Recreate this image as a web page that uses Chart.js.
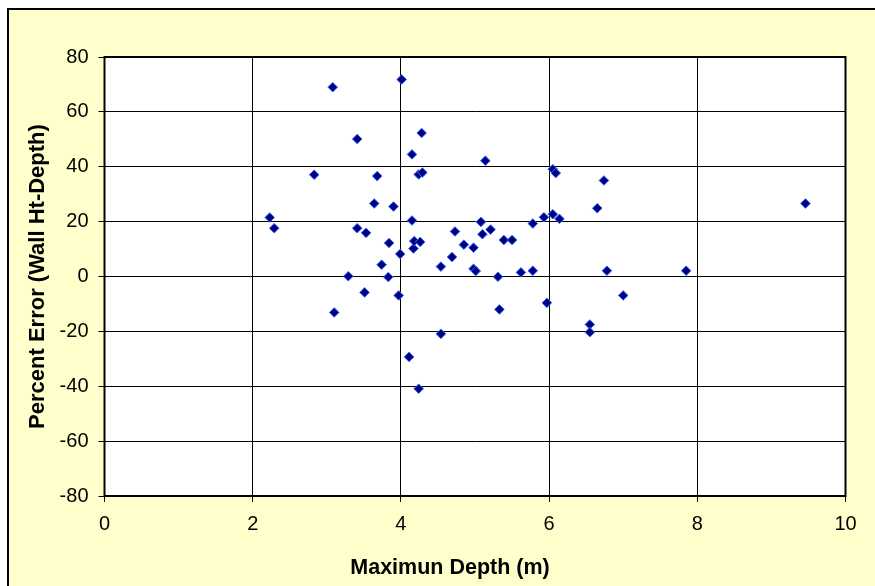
<!DOCTYPE html>
<html>
<head>
<meta charset="utf-8">
<script src="https://cdn.jsdelivr.net/npm/chart.js@4"></script>
<style>
  html, body { margin: 0; padding: 0; background: #fff; }
  canvas { display: block; }
</style>
</head>
<body>
<canvas id="chart" width="875" height="586"></canvas>
<script>
// data
const depth = [2.23, 2.29, 2.83, 3.08, 3.10, 3.29, 3.41, 3.41, 3.53, 3.51, 3.64, 3.68, 3.74, 3.83, 3.84, 3.90,
  3.97, 3.99, 4.01, 4.11, 4.15, 4.15, 4.17, 4.18, 4.26, 4.24, 4.24, 4.29, 4.28, 4.54, 4.54, 4.69, 4.73, 4.85,
  4.98, 4.98, 5.01, 5.08, 5.10, 5.14, 5.21, 5.31, 5.33, 5.39, 5.50, 5.62, 5.78, 5.78, 5.93, 5.97, 6.05, 6.05,
  6.09, 6.14, 6.55, 6.55, 6.65, 6.74, 6.78, 7.00, 7.85, 9.46];
const error = [21.5, 17.6, 37.1, 69.0, -13.1, 0.1, 50.1, 17.6, 15.9, -5.8, 26.6, 36.6, 4.3, -0.2, 12.2, 25.5,
  -6.9, 8.2, 71.8, -29.3, 44.5, 20.4, 10.2, 12.9, 12.6, -40.9, 37.2, 37.9, 52.3, -20.9, 3.6, 7.1, 16.4, 11.6,
  10.5, 2.8, 2.0, 19.9, 15.4, 42.2, 17.1, -0.1, -12.0, 13.3, 13.3, 1.5, 2.1, 19.3, 21.6, -9.6, 22.7, 39.1,
  37.7, 21.0, -17.5, -20.3, 24.9, 35.0, 2.1, -6.9, 2.1, 26.6];
const xTitle = 'Maximun Depth (m)';
const yTitle = 'Percent Error (Wall Ht-Depth)';

const points = depth.map((x, i) => ({ x: x, y: error[i] }));

const tickFont = { family: 'Liberation Sans, Arial', size: 20 };
const titleFont = { family: 'Liberation Sans, Arial', size: 22, weight: 'bold' };

// yellow panel, white plot area, frame, x title (sits left of centre like the original)
const backdrop = {
  id: 'backdrop',
  beforeDraw(chart) {
    const { ctx, chartArea: a, width, height } = chart;
    ctx.save();
    ctx.fillStyle = '#FFFFCC';
    ctx.fillRect(7, 9, width - 7, height - 9);
    ctx.strokeStyle = '#000';
    ctx.lineWidth = 2;
    ctx.beginPath();
    ctx.moveTo(8, height);
    ctx.lineTo(8, 9);
    ctx.lineTo(width, 9);
    ctx.stroke();
    ctx.fillStyle = '#fff';
    ctx.fillRect(a.left, a.top, a.right - a.left, a.bottom - a.top);
    ctx.restore();
  },
  afterDatasetsDraw(chart) {
    const { ctx, chartArea: a } = chart;
    ctx.save();
    ctx.strokeStyle = '#000';
    ctx.lineWidth = 2;
    ctx.strokeRect(a.left, a.top, a.right - a.left, a.bottom - a.top);
    ctx.restore();
  },
  afterDraw(chart) {
    const { ctx } = chart;
    ctx.save();
    ctx.fillStyle = '#000';
    ctx.font = 'bold 21.5px Liberation Sans, Arial';
    ctx.textAlign = 'center';
    ctx.textBaseline = 'alphabetic';
    ctx.fillText(xTitle, 450, 573.5);
    ctx.restore();
  }
};

new Chart(document.getElementById('chart'), {
  type: 'scatter',
  data: {
    datasets: [{
      data: points,
      pointStyle: 'rectRot',
      pointRadius: 4.8,
      pointHoverRadius: 4.8,
      backgroundColor: '#000080',
      borderColor: '#3366FF',
      borderWidth: 1
    }]
  },
  options: {
    responsive: false,
    animation: false,
    devicePixelRatio: 1,
    layout: { padding: { left: 0, top: 57, right: 29.5, bottom: 0 } },
    plugins: {
      legend: { display: false },
      tooltip: { enabled: false }
    },
    scales: {
      x: {
        type: 'linear',
        min: 0,
        max: 10,
        ticks: { stepSize: 2, color: '#000', font: tickFont, padding: 10, maxRotation: 0 },
        grid: { color: '#000', lineWidth: 1, tickLength: 6, tickColor: '#000' },
        border: { display: false },
        title: { display: false },
        afterFit: (scale) => { scale.height = 90; }
      },
      y: {
        type: 'linear',
        min: -80,
        max: 80,
        ticks: { stepSize: 20, color: '#000', font: tickFont, padding: 10 },
        grid: { color: '#000', lineWidth: 1, tickLength: 6, tickColor: '#000' },
        border: { display: false },
        title: { display: true, text: yTitle, color: '#000', font: titleFont, padding: { top: 25, bottom: 0 } },
        afterFit: (scale) => { scale.width = 104.5; }
      }
    }
  },
  plugins: [backdrop]
});
</script>
</body>
</html>
